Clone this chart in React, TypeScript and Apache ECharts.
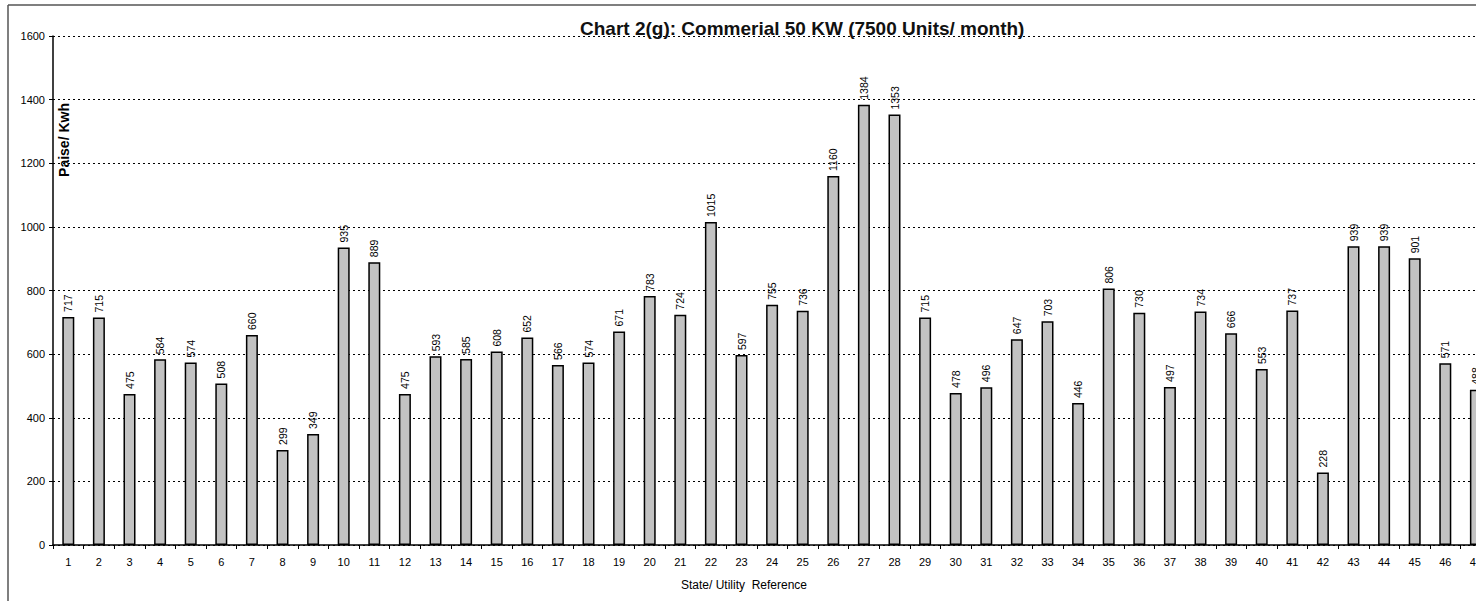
import React, { useEffect, useRef } from "react";
import * as echarts from "echarts";

const categories: string[] = [
  "1", "2", "3", "4", "5", "6", "7", "8", "9", "10",
  "11", "12", "13", "14", "15", "16", "17", "18", "19", "20",
  "21", "22", "23", "24", "25", "26", "27", "28", "29", "30",
  "31", "32", "33", "34", "35", "36", "37", "38", "39", "40",
  "41", "42", "43", "44", "45", "46", "47",
];

const values: number[] = [
  717, 715, 475, 584, 574, 508, 660, 299, 349, 935,
  889, 475, 593, 585, 608, 652, 566, 574, 671, 783,
  724, 1015, 597, 755, 736, 1160, 1384, 1353, 715, 478,
  496, 647, 703, 446, 806, 730, 497, 734, 666, 553,
  737, 228, 939, 939, 901, 571, 488,
];

const yTicks = { min: 0, max: 1600, interval: 200 };

const titleText = "Chart 2(g): Commerial 50 KW (7500 Units/ month)";
const yAxisTitle = "Paise/ Kwh";
const xAxisTitle = "State/ Utility  Reference";

const FONT = "'Liberation Sans', Arial, sans-serif";

export default function App() {
  const ref = useRef<HTMLDivElement>(null);

  useEffect(() => {
    if (!ref.current) return;
    const chart = echarts.init(ref.current, null, { renderer: "svg" });
    const band = 30.6;
    chart.setOption({
      animation: false,
      backgroundColor: "#ffffff",
      textStyle: { fontFamily: FONT },
      title: {
        text: titleText,
        left: 575,
        top: 14,
        textStyle: { fontSize: 19, fontWeight: "bold", color: "#111", fontFamily: FONT },
      },
      grid: {
        left: 53,
        top: 36,
        height: 509,
        width: band * categories.length,
        containLabel: false,
      },
      xAxis: {
        type: "category",
        data: categories,
        boundaryGap: true,
        axisLine: { lineStyle: { color: "#000", width: 1.5 } },
        axisTick: { show: true, length: 4, lineStyle: { color: "#000" } },
        axisLabel: { color: "#000", fontSize: 11, margin: 11, interval: 0, fontFamily: FONT },
        splitLine: { show: false },
      },
      yAxis: {
        type: "value",
        min: yTicks.min,
        max: yTicks.max,
        interval: yTicks.interval,
        axisLine: { show: true, lineStyle: { color: "#000", width: 1.5 } },
        axisTick: { show: true, length: 4, lineStyle: { color: "#000" } },
        axisLabel: {
          color: "#000",
          fontSize: 11,
          margin: 8,
          fontFamily: FONT,
          formatter: (v: number) => String(v),
        },
        splitLine: { show: true, lineStyle: { color: "#000", type: [2, 3], width: 1 } },
      },
      series: [
        {
          type: "bar",
          data: values,
          barWidth: 12,
          itemStyle: { color: "#c2c2c2", borderColor: "#000", borderWidth: 1.5 },
          label: {
            show: true,
            position: "top",
            rotate: 90,
            align: "left",
            verticalAlign: "middle",
            distance: 5,
            fontSize: 10.5,
            color: "#000",
            fontFamily: FONT,
          },
        },
      ],
      graphic: [
        { type: "line", shape: { x1: 8, y1: 5, x2: 1476, y2: 5 }, style: { stroke: "#555", lineWidth: 1.5 } },
        { type: "line", shape: { x1: 8, y1: 5, x2: 8, y2: 601 }, style: { stroke: "#555", lineWidth: 1.5 } },
        {
          type: "text",
          x: 64,
          y: 140,
          rotation: Math.PI / 2,
          style: {
            text: yAxisTitle,
            fontSize: 14,
            fontWeight: "bold",
            fill: "#000",
            align: "center",
            verticalAlign: "middle",
            fontFamily: FONT,
          },
        },
        {
          type: "text",
          x: 744,
          y: 585,
          style: {
            text: xAxisTitle,
            fontSize: 12,
            fill: "#000",
            align: "center",
            verticalAlign: "middle",
            fontFamily: FONT,
          },
        },
      ],
    });
    return () => chart.dispose();
  }, []);

  return (
    <div style={{ position: "absolute", left: 0, top: 0, width: 1476, height: 601, overflow: "hidden", background: "#fff" }}>
      <div ref={ref} style={{ width: 1540, height: 601 }} />
    </div>
  );
}
